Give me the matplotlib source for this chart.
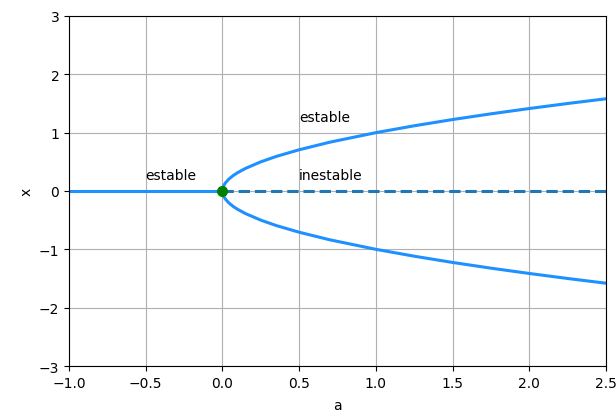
import matplotlib
matplotlib.use("Agg")
import matplotlib.pyplot as plt

# rama estable x=0 para a<0
a_neg = [-1.0, 0.0]
x_neg = [0.0, 0.0]

# ramas estables x = +/- raiz(a)
a_pos = [0.0, 0.002, 0.01, 0.02, 0.04, 0.07, 0.1, 0.15, 0.25, 0.35, 0.5, 0.7, 1.0, 1.25, 1.5, 1.75, 2.0, 2.25, 2.5]
x_pos = [0.0, 0.045, 0.1, 0.141, 0.2, 0.265, 0.316, 0.387, 0.5, 0.592, 0.707, 0.837, 1.0, 1.118, 1.225, 1.323, 1.414, 1.5, 1.581]
x_negb = [-v for v in x_pos]

# rama inestable x=0 para a>0
a_ins = [0.0, 2.5]
x_ins = [0.0, 0.0]

fig = plt.figure(figsize=(6.16, 4.14), dpi=100)
ax = fig.add_subplot(111)
fig.subplots_adjust(left=0.112, right=0.984, top=0.959, bottom=0.1135)

ax.plot(a_neg, x_neg, color='dodgerblue', lw=2.2)
ax.plot(a_pos, x_pos, color='dodgerblue', lw=2.2)
ax.plot(a_pos, x_negb, color='dodgerblue', lw=2.2)
ax.plot(a_ins, x_ins, '--', color='tab:blue', lw=2.2)
ax.plot([0], [0], 'o', color='green', ms=7)

ax.text(-0.5, 0.2, 'estable', fontsize=10)
ax.text(0.5, 1.2, 'estable', fontsize=10)
ax.text(0.5, 0.2, 'inestable', fontsize=10)

ax.set_xlim(-1, 2.5)
ax.set_ylim(-3, 3)
ax.set_xlabel('a', labelpad=6)
ax.set_ylabel('x')
ax.grid(True)

fig.savefig('out.png', dpi=100)
